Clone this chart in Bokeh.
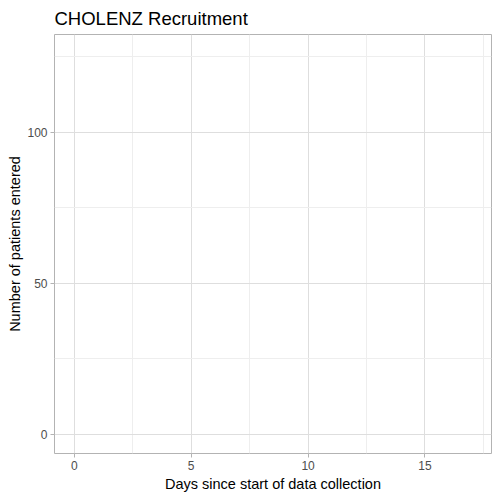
from bokeh.plotting import figure
from bokeh.models import FixedTicker, Range1d, ColumnDataSource
from bokeh.embed import file_html
from bokeh.resources import INLINE

# Data (the reference chart shows no recruited patients yet)
days = []
patients = []
x_ticks = [0, 5, 10, 15]
x_minor = [2.5, 7.5, 12.5, 17.5]
y_ticks = [0, 50, 100]
y_minor = [25, 75, 125]

FONT = "Liberation Sans"

p = figure(width=500, height=500, output_backend="svg", toolbar_location=None,
           x_range=Range1d(-0.85, 17.85), y_range=Range1d(-6.3, 132.3),
           title="CHOLENZ Recruitment",
           min_border_left=54, min_border_right=9, min_border_top=33, min_border_bottom=47)

src = ColumnDataSource(dict(x=days, y=patients))
p.line("x", "y", source=src, line_color="black")

p.title.text_font = FONT
p.title.text_font_size = "18.5px"
p.title.text_font_style = "normal"
p.title.text_color = "black"
p.title.offset = 0
p.title.align = "left"
p.title.standoff = 11

p.background_fill_color = "white"
p.border_fill_color = "white"
p.outline_line_color = "#B3B3B3"
p.outline_line_width = 1

p.xaxis.ticker = FixedTicker(ticks=x_ticks, minor_ticks=x_minor)
p.yaxis.ticker = FixedTicker(ticks=y_ticks, minor_ticks=y_minor)
p.xaxis.axis_label = "Days since start of data collection"
p.yaxis.axis_label = "Number of patients entered"
for ax in (p.xaxis, p.yaxis):
    ax.axis_line_color = None
    ax.major_tick_line_color = "#B3B3B3"
    ax.major_tick_out = 4
    ax.major_tick_in = 0
    ax.minor_tick_line_color = None
    ax.major_label_text_font = FONT
    ax.major_label_text_font_size = "12px"
    ax.major_label_text_color = "#4D4D4D"
    ax.axis_label_text_font = FONT
    ax.axis_label_text_font_size = "14.5px"
    ax.axis_label_text_font_style = "normal"
    ax.axis_label_text_color = "black"
    ax.major_label_standoff = 3
p.xaxis.axis_label_standoff = 3
p.yaxis.axis_label_standoff = 1

p.xgrid.grid_line_color = "#DEDEDE"
p.ygrid.grid_line_color = "#DEDEDE"
p.xgrid.minor_grid_line_color = "#EEEEEE"
p.ygrid.minor_grid_line_color = "#EEEEEE"
p.xgrid.grid_line_width = 1
p.ygrid.grid_line_width = 1

open("out.html", "w").write(file_html(p, INLINE))
